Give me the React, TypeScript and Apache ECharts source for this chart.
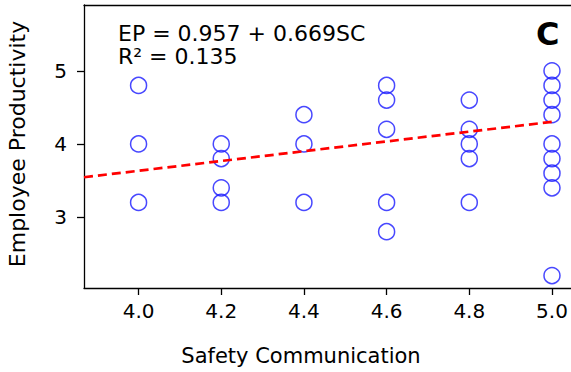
import React, { useEffect, useRef } from "react";
import * as echarts from "echarts";

const scValues = [
  4.0, 4.0, 4.0,
  4.2, 4.2, 4.2, 4.2,
  4.4, 4.4, 4.4,
  4.6, 4.6, 4.6, 4.6, 4.6,
  4.8, 4.8, 4.8, 4.8, 4.8,
  5.0, 5.0, 5.0, 5.0, 5.0, 5.0, 5.0, 5.0, 5.0,
];
const epValues = [
  4.8, 4.0, 3.2,
  4.0, 3.8, 3.4, 3.2,
  4.4, 4.0, 3.2,
  4.8, 4.6, 4.2, 3.2, 2.8,
  4.6, 4.2, 4.0, 3.8, 3.2,
  5.0, 4.8, 4.6, 4.4, 4.0, 3.8, 3.6, 3.4, 2.2,
];
const xTicks = [4.0, 4.2, 4.4, 4.6, 4.8, 5.0];
const yTicks = [3, 4, 5];
const intercept = 0.957;
const slope = 0.669;
const fitRange = [3.868, 5.0];
const xRange = [3.868, 5.046];
const yRange = [2.03, 5.9];
const equationText = "EP = 0.957 + 0.669SC";
const r2Text = "R² = 0.135";
const panelLabel = "C";
const xName = "Safety Communication";
const yName = "Employee Productivity";

const FONT = "DejaVu Sans";

export default function App() {
  const ref = useRef<HTMLDivElement>(null);
  useEffect(() => {
    if (!ref.current) return;
    const chart = echarts.init(ref.current, null, { renderer: "svg" });
    const points = scValues.map((x, i) => [x, epValues[i]]);
    const fitLine = fitRange.map((x) => [x, intercept + slope * x]);
    const spine = { show: true, lineStyle: { color: "#000", width: 1.3 } };
    chart.setOption({
      animation: false,
      backgroundColor: "#fff",
      grid: {
        left: 84,
        top: 5,
        right: 0,
        bottom: 84,
        show: false,
      },
      xAxis: [
        {
          type: "value",
          position: "bottom",
          min: xRange[0],
          max: xRange[1],
          splitLine: { show: false },
          axisLine: spine,
          axisTick: {
            show: true,
            length: 7,
            customValues: xTicks,
            lineStyle: { color: "#000", width: 1.3 },
          },
          axisLabel: {
            customValues: xTicks,
            formatter: (v: number) => v.toFixed(1),
            color: "#000",
            fontFamily: FONT,
            fontSize: 20,
            margin: 13,
          },
        },
        {
          type: "value",
          position: "top",
          min: xRange[0],
          max: xRange[1],
          splitLine: { show: false },
          axisLine: spine,
          axisTick: { show: false },
          axisLabel: { show: false },
        },
      ],
      yAxis: {
        type: "value",
        min: yRange[0],
        max: yRange[1],
        splitLine: { show: false },
        axisLine: spine,
        axisTick: {
          show: true,
          length: 7,
          customValues: yTicks,
          lineStyle: { color: "#000", width: 1.3 },
        },
        axisLabel: {
          customValues: yTicks,
          formatter: (v: number) => String(v),
          color: "#000",
          fontFamily: FONT,
          fontSize: 20,
          margin: 17,
        },
      },
      graphic: [
        {
          type: "text",
          left: 118,
          top: 22,
          style: {
            text: equationText + "\n" + r2Text,
            font: `22px '${FONT}'`,
            lineHeight: 23,
            fill: "#000",
          },
        },
        {
          type: "text",
          left: 536,
          top: 18,
          style: { text: panelLabel, font: `bold 32px '${FONT}'`, fill: "#000" },
        },
        {
          type: "text",
          x: 301,
          y: 356,
          style: {
            text: xName,
            font: `21px '${FONT}'`,
            fill: "#000",
            align: "center",
            verticalAlign: "middle",
          },
        },
        {
          type: "text",
          x: 17,
          y: 144,
          rotation: Math.PI / 2,
          style: {
            text: yName,
            font: `22px '${FONT}'`,
            fill: "#000",
            align: "center",
            verticalAlign: "middle",
          },
        },
      ],
      series: [
        {
          type: "scatter",
          data: points,
          symbol: "circle",
          symbolSize: 16,
          itemStyle: { color: "transparent", borderColor: "#1a1aff", borderWidth: 1.5 },
          z: 2,
        },
        {
          type: "line",
          data: fitLine,
          showSymbol: false,
          symbol: "none",
          lineStyle: { color: "#ff0000", width: 2.7, type: [9, 5] },
          z: 3,
        },
      ],
    });
    return () => chart.dispose();
  }, []);
  return (
    <div
      ref={ref}
      style={{ position: "fixed", left: 0, top: 0, width: 571, height: 372 }}
    />
  );
}
